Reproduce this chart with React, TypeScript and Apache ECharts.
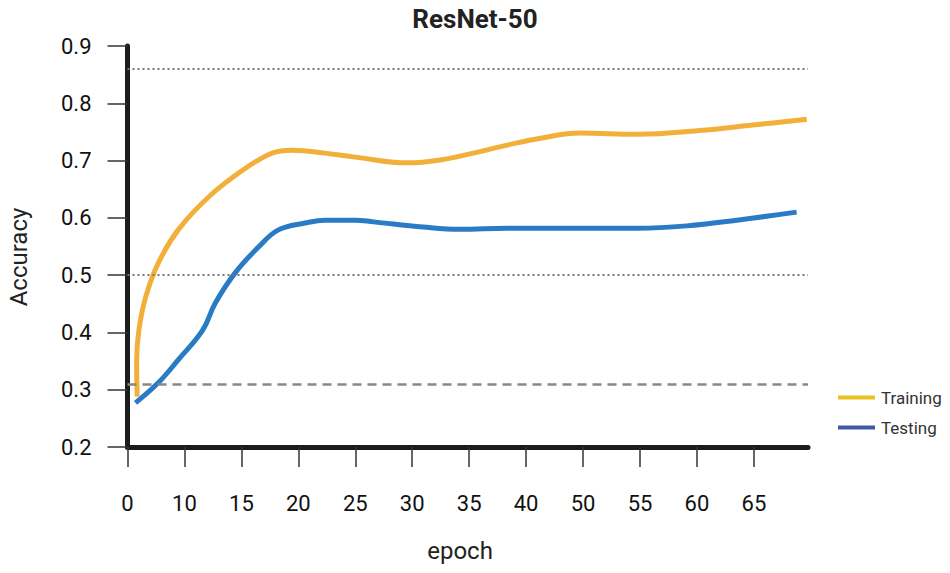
import React, { useEffect, useRef } from "react";
import * as echarts from "echarts";

const xTickLabels = ["0", "10", "15", "20", "25", "30", "35", "40", "50", "55", "60", "65"];
const yTicks = [0.2, 0.3, 0.4, 0.5, 0.6, 0.7, 0.8, 0.9];

// x positions are in tick units (tick i carries xTickLabels[i])
const trainX = [0.17, 0.16, 0.2, 0.32, 0.54, 0.89, 1.42, 2.02, 2.54, 2.89, 3.47, 4.0, 4.91, 5.49, 6.07, 6.67, 7.25, 7.95, 8.95, 10.1, 10.98, 11.93];
const trainY = [0.288, 0.347, 0.404, 0.462, 0.521, 0.579, 0.636, 0.683, 0.713, 0.718, 0.713, 0.706, 0.696, 0.701, 0.713, 0.727, 0.739, 0.748, 0.746, 0.753, 0.762, 0.772];

const testX = [0.14, 0.54, 0.89, 1.32, 1.54, 1.89, 2.3, 2.65, 3.12, 3.47, 4.0, 4.32, 5.19, 5.84, 6.67, 7.95, 8.95, 9.82, 10.7, 11.75];
const testY = [0.277, 0.312, 0.352, 0.404, 0.451, 0.504, 0.549, 0.579, 0.591, 0.596, 0.596, 0.593, 0.584, 0.58, 0.582, 0.582, 0.582, 0.586, 0.596, 0.61];

const refDotted = [0.86, 0.503];
const refDashed = [0.312];

const FONT = "Roboto";

export default function App() {
  const ref = useRef<HTMLDivElement>(null);
  useEffect(() => {
    if (!ref.current) return;
    const chart = echarts.init(ref.current, null, { renderer: "svg" });
    const trainData = trainX.map((x, i) => [x, trainY[i]]);
    const testData = testX.map((x, i) => [x, testY[i]]);
    const tickIdx = xTickLabels.map((_, i) => i);
    chart.setOption({
      animation: false,
      backgroundColor: "#ffffff",
      textStyle: { fontFamily: FONT },
      title: {
        text: "ResNet-50",
        left: 470,
        top: 1,
        textAlign: "center",
        textStyle: { fontFamily: FONT, fontWeight: "bold", fontSize: 26, color: "#222" },
      },
      grid: { left: 127.5, right: 142, top: 46, bottom: 126 },
      legend: {
        orient: "vertical",
        left: 833,
        top: 384,
        itemWidth: 37,
        itemHeight: 4,
        itemGap: 13,
        textStyle: { fontFamily: FONT, fontSize: 17, color: "#333", padding: [0, 0, 0, 1] },
        data: [
          { name: "Training", icon: "rect", itemStyle: { color: "#E8C11F" } },
          { name: "Testing", icon: "rect", itemStyle: { color: "#4358A3" } },
        ],
      },
      xAxis: {
        type: "value",
        min: 0,
        max: 11.95,
        interval: 1,
        axisLine: { show: true, lineStyle: { color: "#1c1c1c", width: 5 } },
        axisTick: { show: true, length: 20, customValues: tickIdx, lineStyle: { color: "#333", width: 1.5 } },
        axisLabel: {
          customValues: tickIdx,
          margin: 45,
          fontFamily: FONT,
          fontSize: 22,
          color: "#111",
          formatter: (v: number) => xTickLabels[Math.round(v)] ?? "",
        },
        splitLine: { show: false },
      },
      yAxis: {
        type: "value",
        min: 0.2,
        max: 0.9,
        interval: 0.1,
        axisLine: { show: true, lineStyle: { color: "#1c1c1c", width: 5 } },
        axisTick: { show: true, length: 20, customValues: yTicks, lineStyle: { color: "#333", width: 1.5 } },
        axisLabel: {
          customValues: yTicks,
          margin: 36,
          fontFamily: FONT,
          fontSize: 22,
          color: "#111",
          formatter: (v: number) => v.toFixed(1),
        },
        splitLine: { show: false },
      },
      graphic: [
        {
          type: "text",
          x: 19,
          y: 257,
          rotation: Math.PI / 2,
          style: {
            text: "Accuracy",
            fontFamily: FONT,
            fontSize: 24,
            fill: "#222",
            textAlign: "center",
            textVerticalAlign: "middle",
          },
        },
        {
          type: "text",
          x: 460,
          y: 551,
          style: {
            text: "epoch",
            fontFamily: FONT,
            fontSize: 24,
            fill: "#222",
            textAlign: "center",
            textVerticalAlign: "middle",
          },
        },
      ],
      series: [
        {
          name: "Training",
          type: "line",
          data: trainData,
          smooth: 0.4,
          showSymbol: false,
          symbol: "none",
          lineStyle: { color: "#F2B03B", width: 5 },
          itemStyle: { color: "#F2B03B" },
          z: 3,
          markLine: {
            silent: true,
            symbol: "none",
            label: { show: false },
            data: [
              ...refDotted.map((v) => ({ yAxis: v, lineStyle: { type: [2, 3], color: "#777", width: 2 } })),
              ...refDashed.map((v) => ({ yAxis: v, lineStyle: { type: [9, 6], color: "#888", width: 2.5 } })),
            ],
          },
        },
        {
          name: "Testing",
          type: "line",
          data: testData,
          smooth: 0.4,
          showSymbol: false,
          symbol: "none",
          lineStyle: { color: "#2A7BC5", width: 5 },
          itemStyle: { color: "#2A7BC5" },
          z: 4,
        },
      ],
    });
    return () => chart.dispose();
  }, []);
  return <div ref={ref} style={{ position: "absolute", left: 0, top: 0, width: 950, height: 573 }} />;
}
